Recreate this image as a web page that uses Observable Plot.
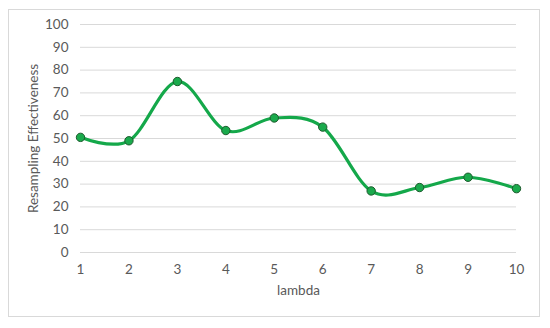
<!DOCTYPE html>
<html>
<head>
<meta charset="utf-8">
<script src="https://cdn.jsdelivr.net/npm/d3@7"></script>
<script src="https://cdn.jsdelivr.net/npm/@observablehq/plot@0.6"></script>
<style>
  html, body { margin: 0; padding: 0; background: #fff; }
  #wrap { position: relative; width: 550px; height: 328px; }
  #border { position: absolute; left: 8px; top: 9px; width: 530px; height: 306px; border: 1px solid #d9d9d9; pointer-events: none; }
</style>
</head>
<body>
<div id="wrap"><div id="border"></div></div>
<script>
const lambdas = [1, 2, 3, 4, 5, 6, 7, 8, 9, 10];
const effectiveness = [50.5, 49, 75, 53.5, 59, 55, 27, 28.5, 33, 28];
const yTicks = [0, 10, 20, 30, 40, 50, 60, 70, 80, 90, 100];
const xLabel = "lambda";
const yLabel = "Resampling Effectiveness";

const data = lambdas.map((l, i) => ({lambda: l, value: effectiveness[i]}));

const chart = Plot.plot({
  width: 550,
  height: 328,
  marginLeft: 80,
  marginRight: 34,
  marginTop: 24,
  marginBottom: 76,
  style: {fontFamily: "Lato, 'Open Sans', sans-serif", fontSize: "13.5px", color: "#595959", background: "transparent"},
  x: {domain: [1, 10], ticks: lambdas, tickSize: 0, tickPadding: 12, label: xLabel, labelArrow: "none", labelAnchor: "center", labelOffset: 42, tickFormat: d => String(d)},
  y: {domain: [0, 100], ticks: yTicks, tickSize: 0, tickPadding: 12, label: yLabel, labelArrow: "none", labelAnchor: "center", labelOffset: 52},
  marks: [
    Plot.ruleY(yTicks, {stroke: "#d9d9d9", strokeWidth: 1}),
    Plot.line(data, {x: "lambda", y: "value", curve: "cardinal", stroke: "#14a84a", strokeWidth: 3.2}),
    Plot.dot(data, {x: "lambda", y: "value", r: 4.2, fill: "#1aaa4c", stroke: "#1e5a2e", strokeWidth: 1})
  ]
});
document.getElementById("wrap").appendChild(chart);
chart.style.position = "absolute";
chart.style.left = "0";
chart.style.top = "0";
</script>
</body>
</html>
